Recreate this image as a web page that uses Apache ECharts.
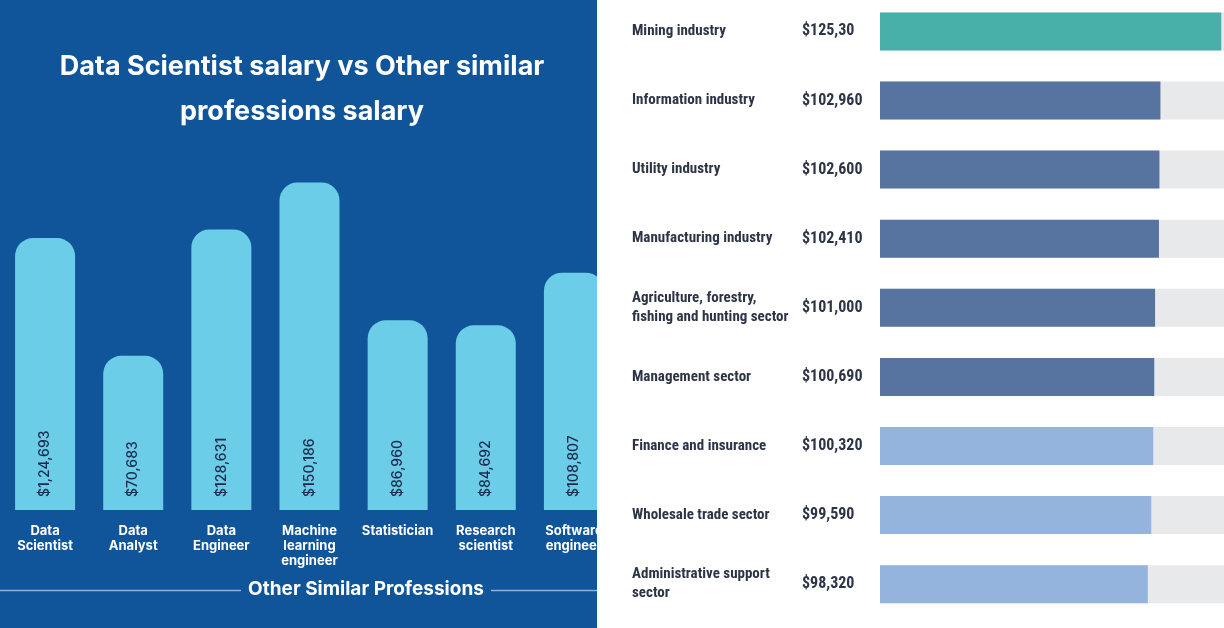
<!DOCTYPE html>
<html>
<head>
<meta charset="utf-8">
<script src="https://cdn.jsdelivr.net/npm/echarts@6/dist/echarts.min.js"></script>
<style>
  html, body { margin: 0; padding: 0; }
  #chart { width: 1224px; height: 628px; background: linear-gradient(to right, #10559a 0, #10559a 597px, #ffffff 597px, #ffffff 100%); }
</style>
</head>
<body>
<div id="chart"></div>
<script>
// Left panel: Data Scientist vs similar professions
const professions = ['Data\nScientist', 'Data\nAnalyst', 'Data\nEngineer', 'Machine\nlearning\nengineer', 'Statistician', 'Research\nscientist', 'Software\nengineer'];
const professionSalaries = [124693, 70683, 128631, 150186, 86960, 84692, 108807];
const professionSalaryLabels = ['$1,24,693', '$70,683', '$128,631', '$150,186', '$86,960', '$84,692', '$108,807'];

// Right panel: salary by industry
const industries = ['Mining industry', 'Information industry', 'Utility industry', 'Manufacturing industry', 'Agriculture, forestry,\nfishing and hunting sector', 'Management sector', 'Finance and insurance', 'Wholesale trade sector', 'Administrative support\nsector'];
const industrySalaries = [125300, 102960, 102600, 102410, 101000, 100690, 100320, 99590, 98320];
const industrySalaryLabels = ['$125,30', '$102,960', '$102,600', '$102,410', '$101,000', '$100,690', '$100,320', '$99,590', '$98,320'];
const industryGroups = ['top', 'mid', 'mid', 'mid', 'mid', 'mid', 'low', 'low', 'low'];

const titleText = 'Data Scientist salary vs Other similar\nprofessions salary';
const axisTitle = 'Other Similar Professions';

const groupColors = { top: '#48b0a8', mid: '#57739f', low: '#94b3dd' };
const sansFont = "Inter, 'Open Sans', sans-serif";
const narrowFont = "'Roboto Condensed', 'DejaVu Sans', sans-serif";

const chart = echarts.init(document.getElementById('chart'), null, { renderer: 'canvas' });

chart.setOption({
  animation: false,
  title: {
    text: titleText,
    left: 297,
    top: 39,
    textAlign: 'center',
    textStyle: { color: '#ffffff', fontFamily: sansFont, fontWeight: 'bold', fontSize: 27, lineHeight: 45 }
  },
  grid: [
    { left: 1, width: 617, top: 161, bottom: 118, containLabel: false },
    { left: 880, right: 0, top: 31.4, height: 552.8, containLabel: false }
  ],
  xAxis: [
    {
      type: 'category', gridIndex: 0, data: professions,
      axisLine: { show: false }, axisTick: { show: false },
      axisLabel: {
        color: '#ffffff', fontFamily: sansFont, fontWeight: 'bold', fontSize: 13,
        lineHeight: 15, margin: 14, verticalAlign: 'top', interval: 0
      }
    },
    {
      type: 'value', gridIndex: 1, min: 0, max: 126300, show: false
    }
  ],
  yAxis: [
    { type: 'value', gridIndex: 0, min: 0, max: 160000, show: false },
    {
      type: 'category', gridIndex: 1, data: industries, inverse: true, boundaryGap: false,
      axisLine: { show: false }, axisTick: { show: false },
      axisLabel: {
        color: '#2c3446', fontFamily: narrowFont, fontWeight: 'bold condensed', fontSize: 15,
        lineHeight: 19, margin: 248, align: 'left', interval: 0, padding: [5, 0, 0, 0]
      }
    },
    {
      type: 'category', gridIndex: 1, data: industrySalaryLabels, inverse: true, boundaryGap: false, position: 'left',
      axisLine: { show: false }, axisTick: { show: false },
      axisLabel: {
        color: '#2c3446', fontFamily: narrowFont, fontWeight: 'bold condensed', fontSize: 16,
        margin: 78, align: 'left', interval: 0, padding: [3, 0, 0, 0]
      }
    }
  ],
  series: [
    {
      type: 'bar', xAxisIndex: 0, yAxisIndex: 0, data: professionSalaries,
      barWidth: 60,
      itemStyle: { color: '#6ccde8', borderRadius: [18, 18, 0, 0] },
      label: {
        show: true, position: 'insideBottom', rotate: 90, align: 'left', verticalAlign: 'middle',
        distance: 13, color: '#1b2a4c', fontFamily: sansFont, fontWeight: 500, fontSize: 14,
        formatter: p => professionSalaryLabels[p.dataIndex]
      }
    },
    {
      type: 'bar', xAxisIndex: 1, yAxisIndex: 1, data: industrySalaries,
      barWidth: 38,
      showBackground: true,
      backgroundStyle: { color: '#e8e9eb' },
      itemStyle: { color: p => groupColors[industryGroups[p.dataIndex]] }
    }
  ],
  graphic: [
    { type: 'rect', z: 100, shape: { x: 597, y: 0, width: 33, height: 628 }, style: { fill: '#ffffff' } },
    { type: 'line', z: 100, shape: { x1: 0, y1: 590.5, x2: 241, y2: 590.5 }, style: { stroke: '#8db1d8', lineWidth: 1.5 } },
    { type: 'line', z: 100, shape: { x1: 491, y1: 590.5, x2: 597, y2: 590.5 }, style: { stroke: '#8db1d8', lineWidth: 1.5 } },
    {
      type: 'text', z: 100, x: 366, y: 589,
      style: { text: axisTitle, fill: '#ffffff', font: "bold 19px Inter, 'Open Sans', sans-serif", align: 'center', verticalAlign: 'middle' }
    }
  ]
});
</script>
</body>
</html>
